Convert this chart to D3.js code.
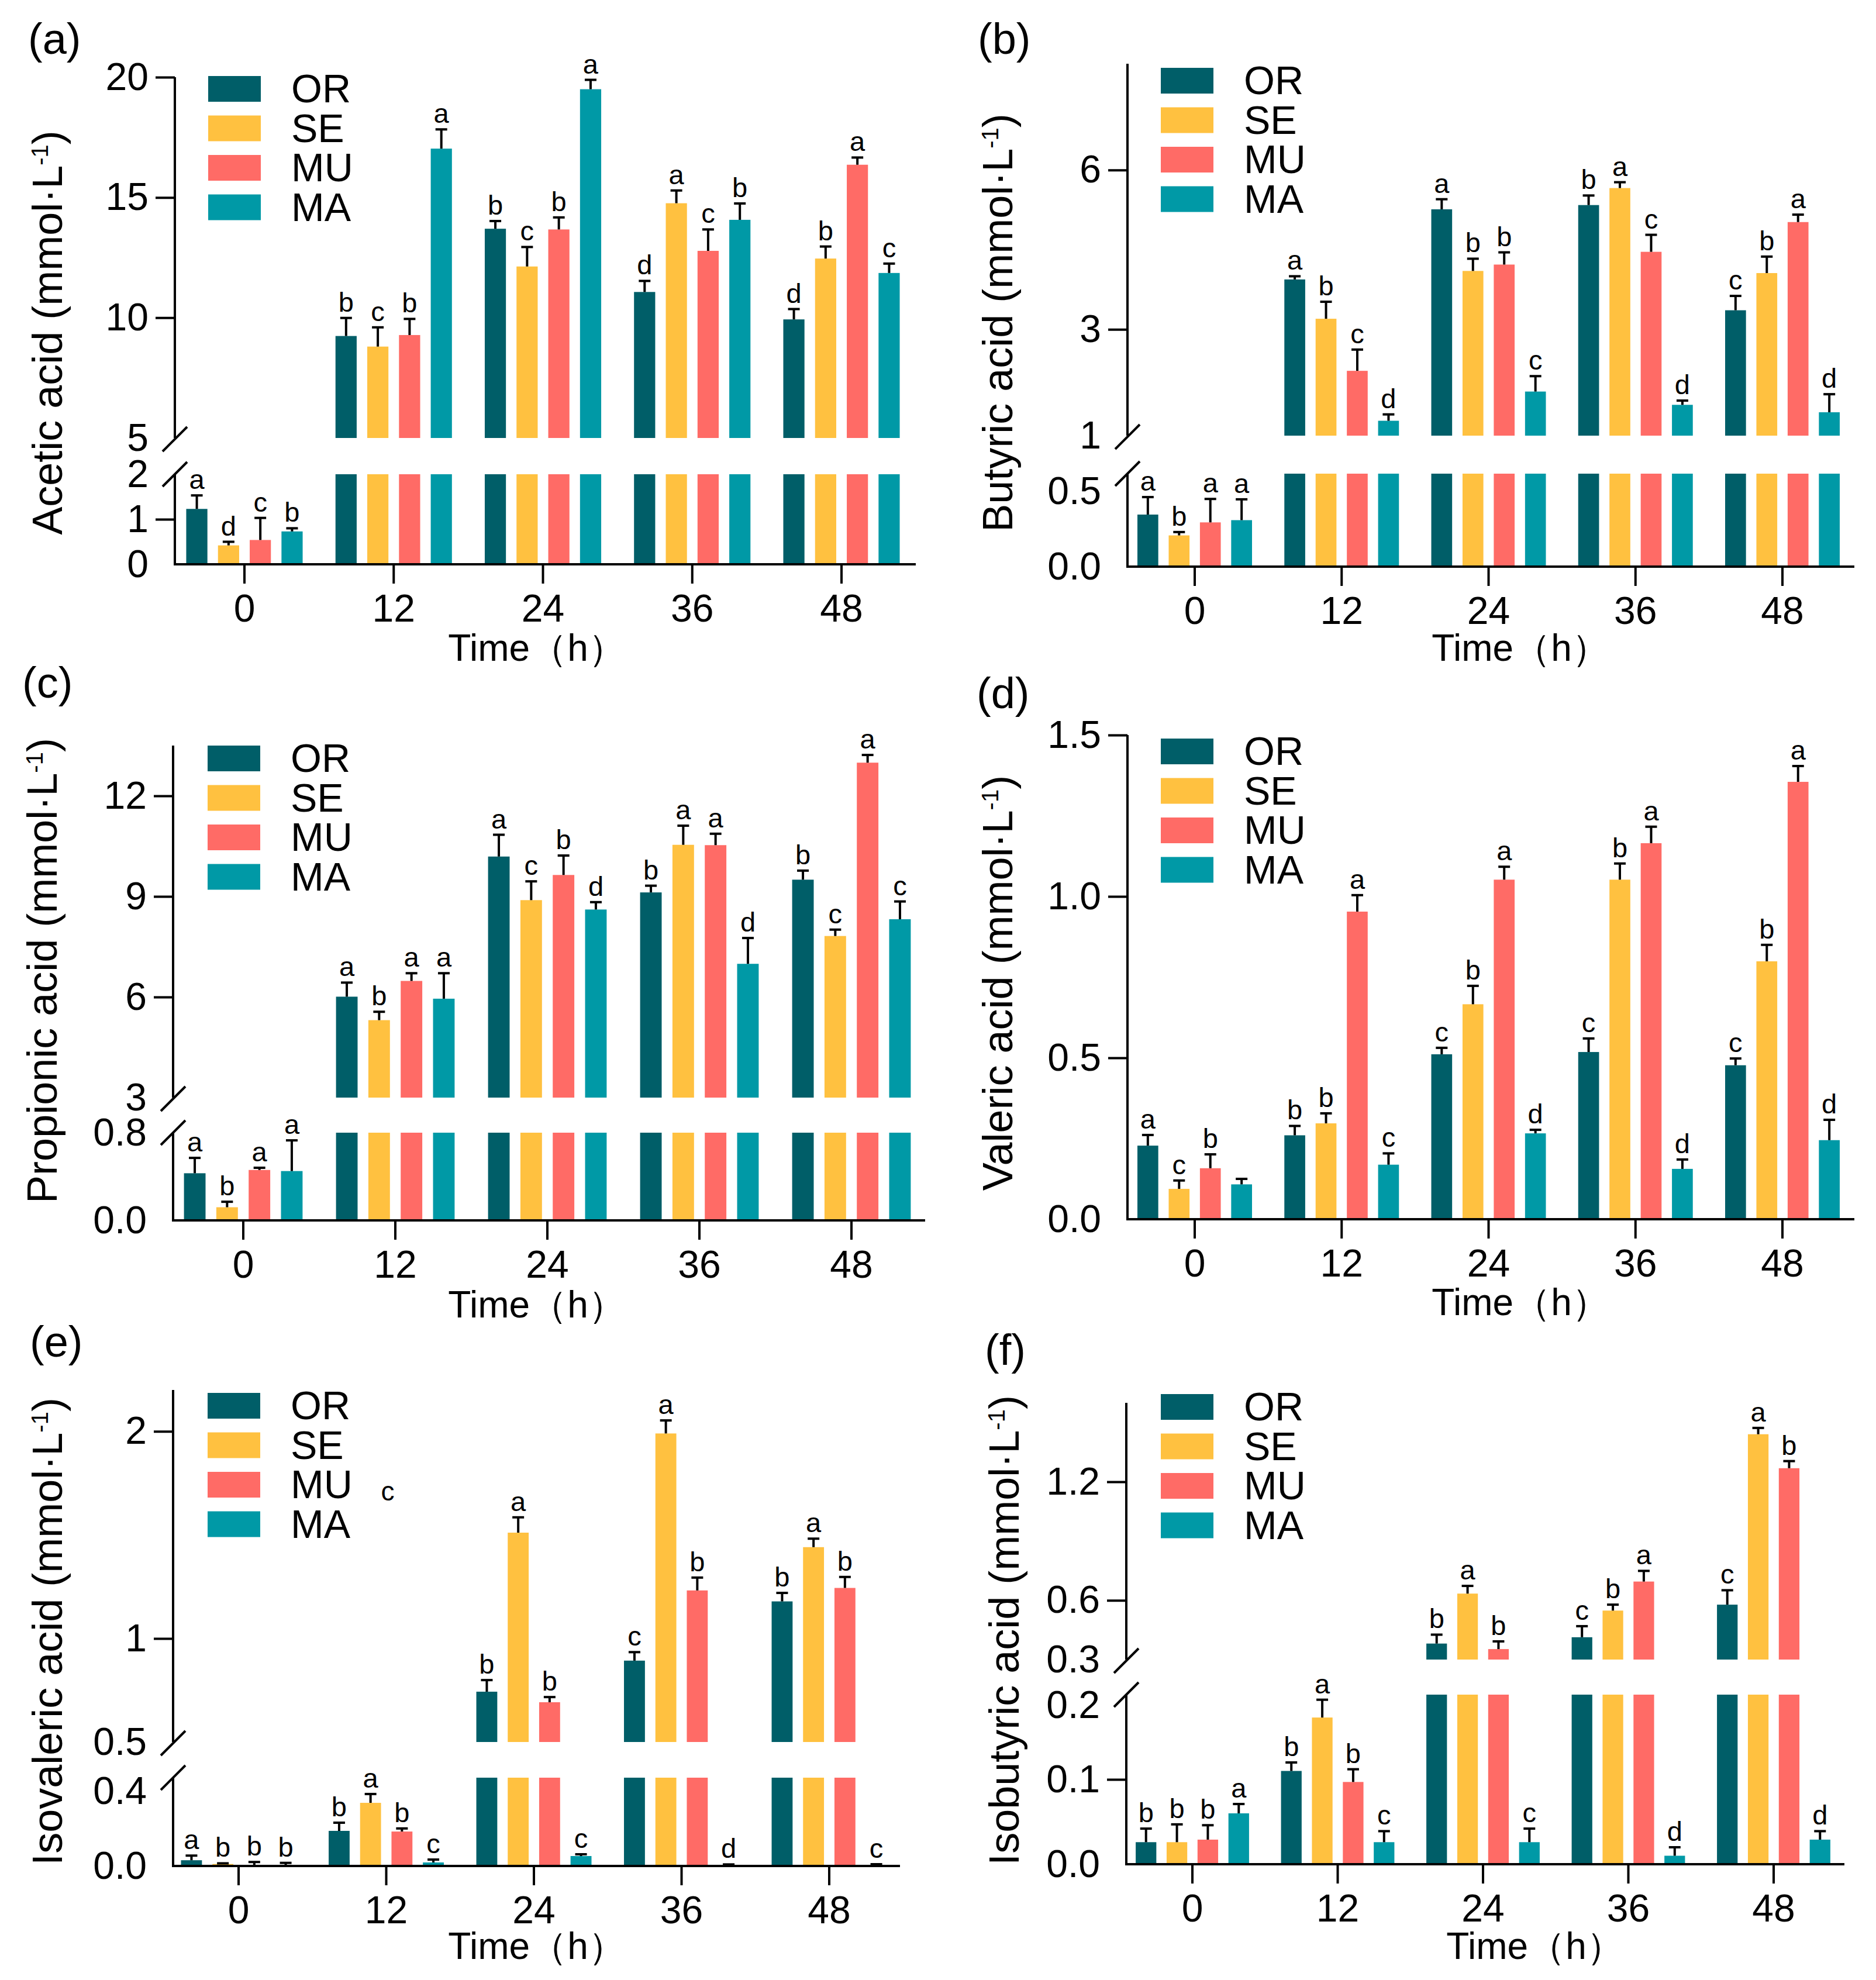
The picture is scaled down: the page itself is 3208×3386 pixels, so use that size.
<!DOCTYPE html>
<html>
<head>
<meta charset="utf-8">
<script src="https://cdn.jsdelivr.net/npm/d3@7"></script>
<style>
  body { margin: 0; background: #fff; }
</style>
</head>
<body>
<script>
const width = 3208;
const height = 3386;
const FONT = '"Liberation Sans", Arial, Helvetica, sans-serif';

const times = ["0", "12", "24", "36", "48"];
const groups = ["OR", "SE", "MU", "MA"];
const colors = ["#005E68", "#FFC140", "#FF6B66", "#0099A6"];

// rows = time (0,12,24,36,48), columns = OR, SE, MU, MA
const aceticMean = [[1.23, 0.42, 0.54, 0.73], [9.24, 8.80, 9.28, 17.03], [13.70, 12.13, 13.67, 19.50], [11.07, 14.76, 12.78, 14.07], [9.93, 12.46, 16.36, 11.86]];
const aceticSd = [[0.30, 0.08, 0.49, 0.07], [0.75, 0.80, 0.67, 0.80], [0.32, 0.81, 0.50, 0.39], [0.46, 0.53, 0.89, 0.68], [0.43, 0.50, 0.30, 0.39]];
const aceticSig = [["a", "d", "c", "b"], ["b", "c", "b", "a"], ["b", "c", "b", "a"], ["d", "a", "c", "b"], ["d", "b", "a", "c"]];

const butyricMean = [[0.28, 0.168, 0.238, 0.25], [3.94, 3.20, 2.22, 1.28], [5.26, 4.10, 4.22, 1.83], [5.34, 5.66, 4.46, 1.58], [3.36, 4.06, 5.02, 1.44]];
const butyricSd = [[0.094, 0.018, 0.126, 0.112], [0.06, 0.32, 0.40, 0.12], [0.19, 0.23, 0.23, 0.29], [0.18, 0.11, 0.32, 0.08], [0.27, 0.31, 0.14, 0.34]];
const butyricSig = [["a", "b", "a", "a"], ["a", "b", "c", "d"], ["a", "b", "b", "c"], ["b", "a", "c", "d"], ["c", "b", "a", "d"]];

const propionicMean = [[0.43, 0.12, 0.46, 0.45], [6.01, 5.31, 6.48, 5.95], [10.19, 8.89, 9.64, 8.61], [9.12, 10.54, 10.53, 6.99], [9.50, 7.82, 12.99, 8.32]];
const propionicSd = [[0.14, 0.05, 0.02, 0.28], [0.42, 0.25, 0.23, 0.76], [0.65, 0.56, 0.58, 0.22], [0.20, 0.57, 0.34, 0.77], [0.27, 0.19, 0.23, 0.53]];
const propionicSig = [["a", "b", "a", "a"], ["a", "b", "a", "a"], ["a", "c", "b", "d"], ["b", "a", "a", "d"], ["b", "c", "a", "c"]];

const valericMean = [[0.228, 0.094, 0.158, 0.108], [0.26, 0.297, 0.953, 0.169], [0.511, 0.666, 1.052, 0.266], [0.518, 1.052, 1.165, 0.156], [0.477, 0.799, 1.355, 0.245]];
const valericSd = [[0.033, 0.026, 0.043, 0.017], [0.029, 0.031, 0.051, 0.035], [0.02, 0.057, 0.04, 0.011], [0.042, 0.05, 0.051, 0.029], [0.021, 0.051, 0.049, 0.063]];
const valericSig = [["a", "c", "b", ""], ["b", "b", "a", "c"], ["c", "b", "a", "d"], ["c", "b", "a", "d"], ["c", "b", "a", "d"]];

const isovalericMean = [[0.026, 0.009, 0.005, 0.005], [0.159, 0.286, 0.156, 0.016], [0.743, 1.511, 0.692, 0.045], [0.893, 1.99, 1.232, 0.004], [1.179, 1.441, 1.244, 0.003]];
const isovalericSd = [[0.021, 0.003, 0.013, 0.009], [0.037, 0.04, 0.014, 0.013], [0.056, 0.074, 0.025, 0.008], [0.041, 0.063, 0.062, 0.003], [0.041, 0.041, 0.053, 0.005]];
const isovalericSig = [["a", "b", "b", "b"], ["b", "a", "b", "c"], ["b", "a", "b", "c"], ["c", "a", "b", "d"], ["b", "a", "b", "c"]];

const isobutyricMean = [[0.026, 0.026, 0.029, 0.06], [0.11, 0.173, 0.097, 0.026], [0.381, 0.634, 0.353, 0.026], [0.413, 0.548, 0.695, 0.01], [0.578, 1.441, 1.269, 0.029]];
const isobutyricSd = [[0.016, 0.021, 0.017, 0.011], [0.01, 0.021, 0.015, 0.013], [0.045, 0.039, 0.039, 0.016], [0.056, 0.03, 0.054, 0.01], [0.073, 0.032, 0.036, 0.01]];
const isobutyricSig = [["b", "b", "b", "a"], ["b", "a", "b", "c"], ["b", "a", "b", "c"], ["c", "b", "a", "d"], ["c", "a", "b", "d"]];

// panel layout: ticks are [value, draw tick line, label shift]
const panels = [
  { tag: "(a)", name: "Acetic acid", mean: aceticMean, sd: aceticSd, sig: aceticSig,
    tagX: 48, tagY: 92, axisX: 299, axisEnd: 1566, base: 965, c0: 418, c4: 1439,
    upper: { dom: [5, 20], rng: [749, 132], fmt: "d", ticks: [[5, false, 0], [10, true, 0], [15, true, 0], [20, true, 0]] },
    lower: { dom: [0, 2], rng: [965, 811], fmt: "d", ticks: [[0, false, 0], [1, true, 0], [2, false, 0]] },
    legendX: 356, legendY: 130, titleX: 106, titleY: 569, timeX: 918, timeY: 1130 },
  { tag: "(b)", name: "Butyric acid", mean: butyricMean, sd: butyricSd, sig: butyricSig,
    tagX: 1672, tagY: 92, axisX: 1928, axisEnd: 3171, base: 969, c0: 2043, c4: 3048,
    upper: { dom: [1, 8], rng: [745, 109], fmt: "d", ticks: [[1, false, 0], [3, true, 0], [6, true, 0]] },
    lower: { dom: [0, 0.5], rng: [969, 810], fmt: ".1f", ticks: [[0, false, 0], [0.5, false, 30]] },
    legendX: 1985, legendY: 116, titleX: 1731, titleY: 552, timeX: 2600, timeY: 1130 },
  { tag: "(c)", name: "Propionic acid", mean: propionicMean, sd: propionicSd, sig: propionicSig,
    tagX: 38, tagY: 1193, axisX: 296, axisEnd: 1582, base: 2087, c0: 416, c4: 1456,
    upper: { dom: [3, 13.5], rng: [1877, 1275], fmt: "d", ticks: [[3, false, 0], [6, true, 0], [9, true, 0], [12, true, 0]] },
    lower: { dom: [0, 0.8], rng: [2087, 1937], fmt: ".1f", ticks: [[0, false, 0], [0.8, false, 0]] },
    legendX: 355, legendY: 1275, titleX: 97, titleY: 1660, timeX: 918, timeY: 2253 },
  { tag: "(d)", name: "Valeric acid", mean: valericMean, sd: valericSd, sig: valericSig,
    tagX: 1670, tagY: 1211, axisX: 1928, axisEnd: 3171, base: 2085, c0: 2043, c4: 3048,
    upper: { dom: [0, 1.5], rng: [2085, 1257], fmt: ".1f", ticks: [[0, false, 0], [0.5, true, 0], [1, true, 0], [1.5, true, 0]] },
    lower: null,
    legendX: 1985, legendY: 1263, titleX: 1731, titleY: 1681, timeX: 2600, timeY: 2249 },
  { tag: "(e)", name: "Isovaleric acid", mean: isovalericMean, sd: isovalericSd, sig: isovalericSig,
    tagX: 51, tagY: 2320, axisX: 296, axisEnd: 1539, base: 3191, c0: 408, c4: 1418,
    upper: { dom: [0.5, 2.2], rng: [2979, 2377], fmt: "~g", ticks: [[0.5, false, 0], [1, true, 0], [2, true, 0]] },
    lower: { dom: [0, 0.4], rng: [3191, 3040], fmt: ".1f", ticks: [[0, false, 0], [0.4, false, 23]] },
    legendX: 355, legendY: 2382, titleX: 106, titleY: 2790, timeX: 918, timeY: 3350 },
  { tag: "(f)", name: "Isobutyric acid", mean: isobutyricMean, sd: isobutyricSd, sig: isobutyricSig,
    tagX: 1684, tagY: 2334, axisX: 1926, axisEnd: 3154, base: 3188, c0: 2039, c4: 3033,
    upper: { dom: [0.3, 1.6], rng: [2838, 2399], fmt: ".1f", ticks: [[0.3, false, 0], [0.6, true, 0], [1.2, true, 0]] },
    lower: { dom: [0, 0.2], rng: [3188, 2898], fmt: ".1f", ticks: [[0, false, 0], [0.1, true, 0], [0.2, false, 18]] },
    legendX: 1985, legendY: 2384, titleX: 1742, titleY: 2788, timeX: 2625, timeY: 3350 }
];

const svg = d3.select("body")
    .append("svg")
    .attr("width", width)
    .attr("height", height)
    .attr("font-family", FONT);

svg.append("rect").attr("width", width).attr("height", height).attr("fill", "#fff");

panels.forEach(p => {
    const g = svg.append("g");

    const step = (p.c4 - p.c0) / 4;
    const x = d3.scaleBand()
        .domain(times)
        .range([p.c0 - step / 2, p.c4 + step / 2])
        .paddingInner(0.22)
        .paddingOuter(0.11);
    const xs = d3.scaleBand()
        .domain(groups)
        .range([0, x.bandwidth()])
        .paddingInner(0.333);

    const up = d3.scaleLinear().domain(p.upper.dom).range(p.upper.rng);
    const lo = p.lower ? d3.scaleLinear().domain(p.lower.dom).range(p.lower.rng) : null;
    const yPos = v => (lo && v <= p.lower.dom[1]) ? lo(v) : up(v);

    const rows = [];
    times.forEach((t, i) => groups.forEach((s, j) => {
        rows.push({ t, s, j, v: p.mean[i][j], e: p.sd[i][j], sig: p.sig[i][j] });
    }));

    // bar pieces (split across the axis break)
    const pieces = [];
    rows.forEach(d => {
        if (!lo) {
            pieces.push({ d, y0: up(0), y1: up(d.v) });
        } else if (d.v <= p.lower.dom[1]) {
            pieces.push({ d, y0: lo(0), y1: lo(d.v) });
        } else {
            pieces.push({ d, y0: lo(0), y1: lo(p.lower.dom[1]) });
            pieces.push({ d, y0: up(p.upper.dom[0]), y1: up(d.v) });
        }
    });

    g.append("g").selectAll("rect")
        .data(pieces)
        .join("rect")
        .attr("x", q => x(q.d.t) + xs(q.d.s))
        .attr("width", xs.bandwidth())
        .attr("y", q => q.y1)
        .attr("height", q => Math.max(0, q.y0 - q.y1))
        .attr("fill", q => colors[q.d.j]);

    const cx = d => x(d.t) + xs(d.s) + xs.bandwidth() / 2;

    // error bars
    const eg = g.append("g").attr("stroke", "#000").attr("stroke-width", 4);
    eg.selectAll(".stem")
        .data(rows)
        .join("line")
        .attr("class", "stem")
        .attr("x1", cx).attr("x2", cx)
        .attr("y1", d => yPos(d.v))
        .attr("y2", d => yPos(d.v + d.e));
    eg.selectAll(".cap")
        .data(rows)
        .join("line")
        .attr("class", "cap")
        .attr("x1", d => cx(d) - 10).attr("x2", d => cx(d) + 10)
        .attr("y1", d => yPos(d.v + d.e))
        .attr("y2", d => yPos(d.v + d.e));

    // significance letters
    g.append("g").selectAll("text")
        .data(rows.filter(d => d.sig))
        .join("text")
        .attr("x", cx)
        .attr("y", d => yPos(d.v + d.e) - 11)
        .attr("text-anchor", "middle")
        .attr("font-size", 47)
        .text(d => d.sig);

    // y axes
    const segAxis = (scale, seg) => {
        const ax = g.append("g")
            .attr("transform", `translate(${p.axisX},0)`)
            .call(d3.axisLeft(scale)
                .tickValues(seg.ticks.map(t => t[0]))
                .tickFormat(d3.format(seg.fmt))
                .tickSize(33)
                .tickPadding(12));
        ax.attr("font-size", 66).attr("font-family", FONT);
        ax.select(".domain").remove();
        ax.selectAll(".tick").each(function (v) {
            const t = seg.ticks.find(k => k[0] === v);
            const tick = d3.select(this);
            if (!t[1]) tick.select("line").remove();
            if (t[2]) tick.select("text").attr("y", t[2]);
        });
        ax.selectAll("line").attr("stroke", "#000").attr("stroke-width", 4);
        ax.selectAll("text").attr("fill", "#000");
    };
    segAxis(up, p.upper);
    if (lo) segAxis(lo, p.lower);

    const ax = g.append("g").attr("stroke", "#000").attr("stroke-width", 4).attr("fill", "none");
    if (lo) {
        ax.append("line").attr("x1", p.axisX).attr("x2", p.axisX)
            .attr("y1", p.upper.rng[1]).attr("y2", p.upper.rng[0]);
        ax.append("line").attr("x1", p.axisX).attr("x2", p.axisX)
            .attr("y1", p.lower.rng[1]).attr("y2", p.base);
        [p.upper.rng[0] + 2, p.lower.rng[1]].forEach(yb => {
            ax.append("line")
                .attr("x1", p.axisX - 21).attr("y1", yb + 21)
                .attr("x2", p.axisX + 21).attr("y2", yb - 21);
        });
    } else {
        ax.append("line").attr("x1", p.axisX).attr("x2", p.axisX)
            .attr("y1", p.upper.rng[1]).attr("y2", p.base);
    }

    // x axis
    const xa = g.append("g")
        .attr("transform", `translate(0,${p.base})`)
        .call(d3.axisBottom(x).tickSize(33).tickPadding(18).tickSizeOuter(0));
    xa.attr("font-size", 66).attr("font-family", FONT);
    xa.select(".domain").remove();
    xa.selectAll("line").attr("stroke", "#000").attr("stroke-width", 4);
    xa.selectAll("text").attr("fill", "#000");
    ax.append("line")
        .attr("x1", p.axisX - 2).attr("x2", p.axisEnd)
        .attr("y1", p.base).attr("y2", p.base);

    // legend
    const lg = g.append("g").attr("transform", `translate(${p.legendX},${p.legendY})`);
    groups.forEach((s, i) => {
        lg.append("rect")
            .attr("x", 0).attr("y", i * 67.5)
            .attr("width", 90).attr("height", 44)
            .attr("fill", colors[i]);
        lg.append("text")
            .attr("x", 142).attr("y", i * 67.5 + 45)
            .attr("font-size", 68)
            .text(s);
    });

    // y title
    const tt = g.append("text")
        .attr("transform", `translate(${p.titleX},${p.titleY}) rotate(-90)`)
        .attr("text-anchor", "middle")
        .attr("font-size", 72);
    tt.append("tspan").text(p.name + " (mmol·L");
    tt.append("tspan").attr("font-size", 40).attr("dy", -24).text("-1");
    tt.append("tspan").attr("dy", 24).text(")");

    // x title
    g.append("text")
        .attr("x", p.timeX).attr("y", p.timeY)
        .attr("text-anchor", "middle")
        .attr("font-size", 64)
        .text("Time（h）");

    // panel tag
    g.append("text")
        .attr("x", p.tagX).attr("y", p.tagY)
        .attr("font-size", 74)
        .text(p.tag);
});

// stray letter that sits inside panel (e) of the original figure
svg.append("text")
    .attr("x", 663).attr("y", 2566)
    .attr("text-anchor", "middle")
    .attr("font-size", 46)
    .text("c");
</script>
</body>
</html>
